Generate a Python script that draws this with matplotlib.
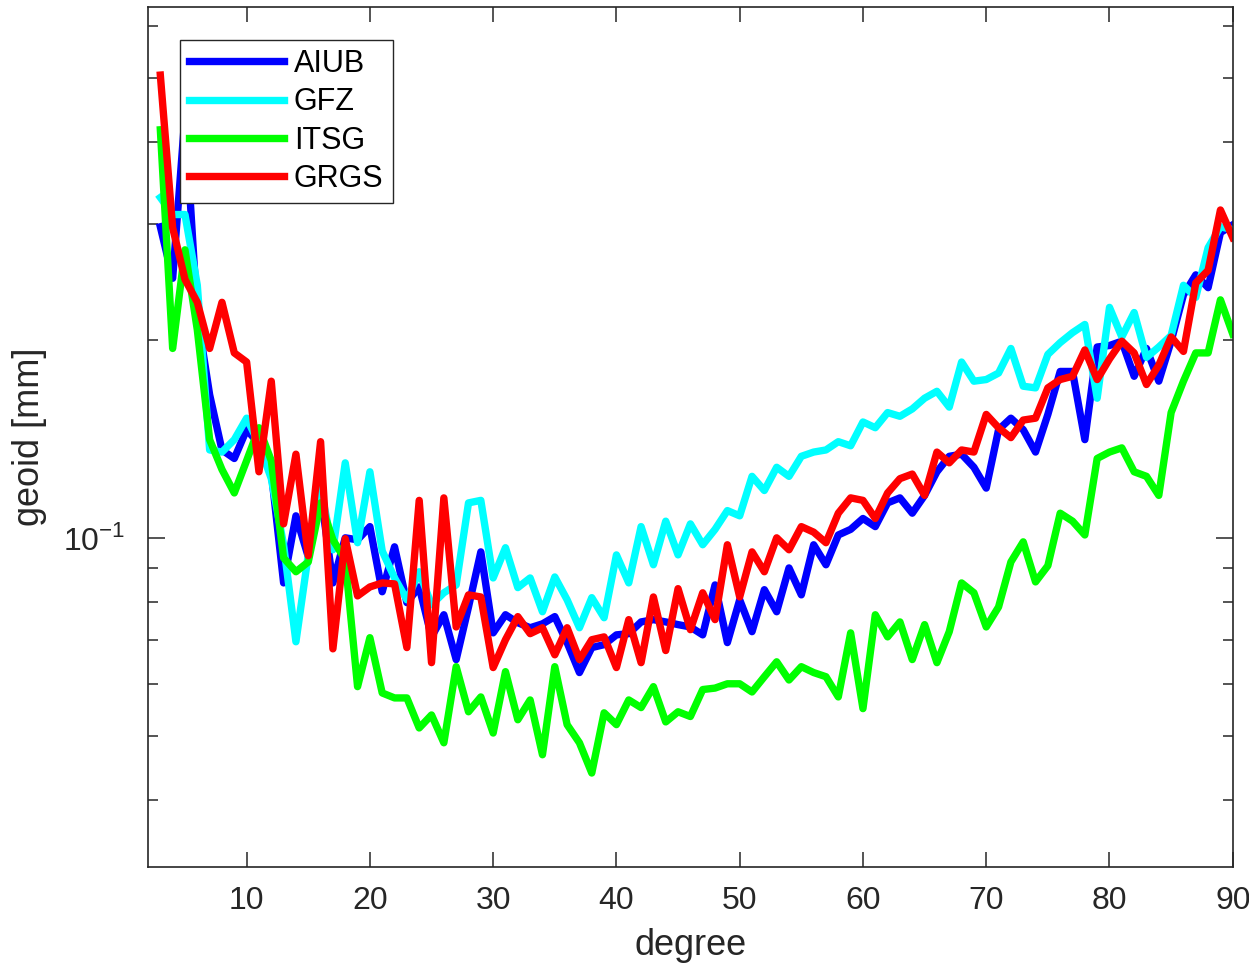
import matplotlib
matplotlib.use("Agg")
import matplotlib.pyplot as plt
from matplotlib.ticker import FixedLocator, NullFormatter, LogLocator

plt.rcParams['font.family'] = ['Liberation Sans', 'DejaVu Sans']
plt.rcParams['mathtext.fontset'] = 'custom'
plt.rcParams['mathtext.rm'] = 'Liberation Sans'

degree = list(range(3, 91))

aiub = [0.297, 0.248, 0.439, 0.218, 0.165, 0.136, 0.132, 0.146, 0.139, 0.126,
        0.0854, 0.108, 0.0936, 0.117, 0.0854, 0.100, 0.0993, 0.104, 0.0828, 0.0969,
        0.0797, 0.0842, 0.0707, 0.0764, 0.0653, 0.0785, 0.0952, 0.0717, 0.0764, 0.0743,
        0.0730, 0.0740, 0.0759, 0.0693, 0.0624, 0.0681, 0.0688, 0.0712, 0.0715, 0.0745,
        0.0751, 0.0745, 0.0738, 0.0732, 0.0712, 0.0848, 0.0693, 0.0805, 0.0720, 0.0834,
        0.0772, 0.0900, 0.0819, 0.0976, 0.0910, 0.101, 0.103, 0.107, 0.104, 0.113,
        0.115, 0.109, 0.116, 0.126, 0.133, 0.134, 0.128, 0.119, 0.146, 0.152,
        0.146, 0.135, 0.154, 0.179, 0.179, 0.141, 0.195, 0.196, 0.199, 0.176,
        0.194, 0.173, 0.199, 0.234, 0.251, 0.240, 0.291, 0.299]

gfz = [0.329, 0.310, 0.310, 0.242, 0.136, 0.135, 0.141, 0.152, 0.139, 0.123,
       0.0976, 0.0695, 0.0942, 0.119, 0.0959, 0.130, 0.0983, 0.126, 0.0955, 0.0869,
       0.0805, 0.0888, 0.0791, 0.0825, 0.0848, 0.113, 0.114, 0.0869, 0.0966, 0.0840,
       0.0869, 0.0772, 0.0872, 0.0805, 0.0730, 0.0811, 0.0756, 0.0942, 0.0854, 0.104,
       0.0910, 0.106, 0.0942, 0.105, 0.0976, 0.103, 0.110, 0.108, 0.124, 0.118,
       0.128, 0.124, 0.133, 0.135, 0.136, 0.140, 0.138, 0.150, 0.147, 0.155,
       0.153, 0.157, 0.163, 0.167, 0.158, 0.185, 0.173, 0.174, 0.178, 0.194,
       0.170, 0.169, 0.190, 0.198, 0.205, 0.211, 0.163, 0.224, 0.202, 0.220,
       0.188, 0.195, 0.203, 0.242, 0.232, 0.276, 0.297, 0.294]

itsg = [0.417, 0.194, 0.274, 0.207, 0.141, 0.127, 0.117, 0.131, 0.147, 0.131,
        0.0932, 0.0888, 0.0919, 0.113, 0.0993, 0.0926, 0.0594, 0.0705, 0.0581, 0.0571,
        0.0571, 0.0514, 0.0538, 0.0488, 0.0637, 0.0544, 0.0573, 0.0505, 0.0626, 0.0529,
        0.0567, 0.0468, 0.0637, 0.0520, 0.0488, 0.0439, 0.0542, 0.0520, 0.0567, 0.0552,
        0.0594, 0.0525, 0.0544, 0.0535, 0.0588, 0.0591, 0.0600, 0.0600, 0.0583, 0.0615,
        0.0648, 0.0608, 0.0637, 0.0624, 0.0615, 0.0573, 0.0717, 0.0550, 0.0764, 0.0707,
        0.0745, 0.0653, 0.0738, 0.0646, 0.0720, 0.0854, 0.0825, 0.0732, 0.0785, 0.0919,
        0.0986, 0.0857, 0.0907, 0.109, 0.106, 0.101, 0.132, 0.135, 0.137, 0.126,
        0.124, 0.116, 0.155, 0.173, 0.191, 0.191, 0.230, 0.204]

grgs = [0.505, 0.296, 0.247, 0.228, 0.194, 0.228, 0.191, 0.185, 0.126, 0.173,
        0.105, 0.134, 0.0939, 0.140, 0.0678, 0.0997, 0.0816, 0.0842, 0.0854, 0.0851,
        0.0681, 0.114, 0.0646, 0.115, 0.0732, 0.0819, 0.0813, 0.0635, 0.0700, 0.0759,
        0.0715, 0.0730, 0.0664, 0.0730, 0.0653, 0.0700, 0.0707, 0.0635, 0.0751, 0.0646,
        0.0813, 0.0674, 0.0837, 0.0725, 0.0825, 0.0751, 0.0976, 0.0813, 0.0952, 0.0888,
        0.100, 0.0959, 0.104, 0.102, 0.0983, 0.109, 0.115, 0.114, 0.107, 0.117,
        0.123, 0.125, 0.116, 0.135, 0.130, 0.136, 0.135, 0.154, 0.147, 0.142,
        0.151, 0.152, 0.169, 0.174, 0.176, 0.193, 0.174, 0.187, 0.199, 0.191,
        0.171, 0.183, 0.202, 0.192, 0.244, 0.255, 0.315, 0.286]

fig = plt.figure(figsize=(12.49, 9.66), dpi=100)
ax = fig.add_axes([0.1185, 0.1025, 0.8685, 0.8903])

lw = 5.3
ax.plot(degree, aiub, color=(0, 0, 1), lw=lw, label='AIUB')
ax.plot(degree, gfz, color=(0, 1, 1), lw=lw, label='GFZ')
ax.plot(degree, itsg, color=(0, 1, 0), lw=lw, label='ITSG')
ax.plot(degree, grgs, color=(1, 0, 0), lw=lw, label='GRGS')

ax.set_yscale('log')
ax.set_xlim(2, 90)
ax.set_ylim(0.0316, 0.641)
ax.set_xticks(range(10, 91, 10))
ax.yaxis.set_major_locator(FixedLocator([0.1]))
ax.yaxis.set_major_formatter(matplotlib.ticker.FuncFormatter(lambda v, p: r'$10^{-1}$'))
ax.yaxis.set_minor_locator(LogLocator(base=10, subs=range(2, 10), numticks=20))
ax.yaxis.set_minor_formatter(NullFormatter())

gray = '#262626'
for s in ax.spines.values():
    s.set_color(gray)
    s.set_linewidth(1.2)
ax.tick_params(which='both', direction='in', top=True, right=True, colors=gray,
               labelsize=23, labelcolor=gray)
ax.tick_params(axis='x', which='major', length=11, width=1.1, pad=14)
ax.tick_params(axis='y', which='major', length=12, width=1.1, pad=16)
ax.tick_params(axis='y', which='minor', length=7, width=1.1)

ax.set_xlabel('degree', fontsize=26, color=gray, labelpad=8)
ax.set_ylabel('geoid [mm]', fontsize=26, color=gray, labelpad=12)

leg = ax.legend(loc='upper left', bbox_to_anchor=(0.0295, 0.9616), fontsize=22,
                handlelength=3.1, handletextpad=0.33, labelspacing=0.27,
                borderpad=0.3, borderaxespad=0, fancybox=False, framealpha=1,
                edgecolor=gray)
leg.get_frame().set_linewidth(1.0)

fig.savefig('out.png', dpi=100)
